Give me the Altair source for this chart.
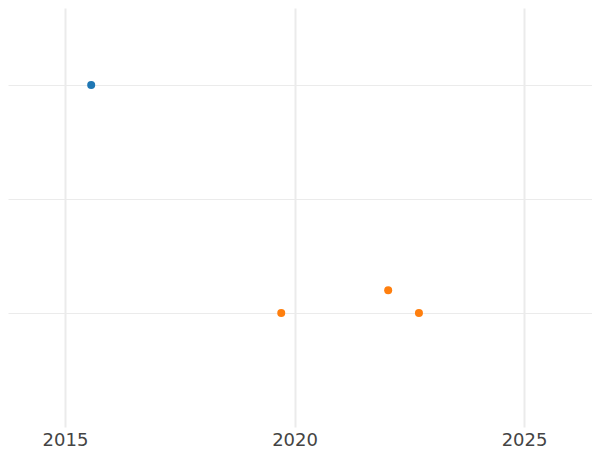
import altair as alt
import pandas as pd

years = [2015.57, 2019.71, 2022.04, 2022.71]
values = [3.0, 1.0, 1.2, 1.0]
groups = ["A", "B", "B", "B"]

df = pd.DataFrame({"year": years, "value": values, "group": groups})

chart = alt.Chart(df).mark_circle(size=64, opacity=1).encode(
    x=alt.X("year:Q",
            scale=alt.Scale(domain=[2013.758, 2026.48], nice=False, zero=False),
            axis=alt.Axis(values=[2015, 2020, 2025], format="d", title=None,
                          ticks=False, domain=False, labelFontSize=18,
                          labelColor="#444444", labelFont="DejaVu Sans",
                          labelPadding=4, gridColor="#ebebeb", gridWidth=2)),
    y=alt.Y("value:Q",
            scale=alt.Scale(domain=[0.0, 3.676], nice=False, zero=False),
            axis=alt.Axis(values=[1, 2, 3], title=None, labels=False,
                          ticks=False, domain=False, gridColor="#ebebeb",
                          gridWidth=1)),
    color=alt.Color("group:N",
                    scale=alt.Scale(domain=["A", "B"], range=["#1f77b4", "#ff7f0e"]),
                    legend=None),
).properties(
    width=584, height=419,
    padding={"left": 0, "top": 0, "right": 0, "bottom": 23},
    autosize=alt.AutoSizeParams(type="none"),
).configure_view(stroke=None)

chart.save("out.html", embed_options={"renderer": "svg", "actions": False})
